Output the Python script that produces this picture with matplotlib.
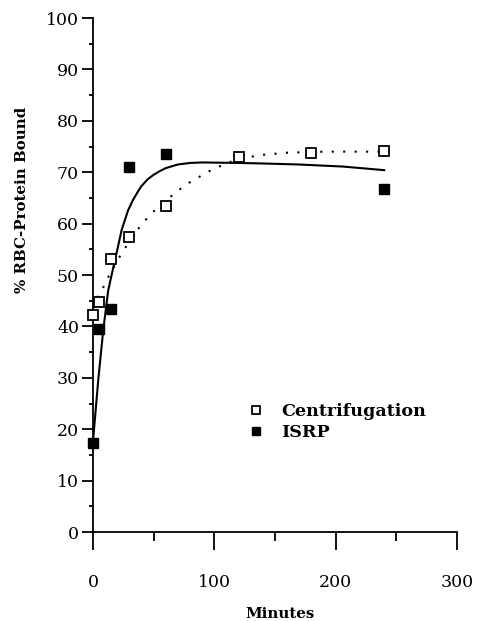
import matplotlib.pyplot as plt
from matplotlib.ticker import MultipleLocator

plt.rcParams["font.family"] = ["DejaVu Serif"]

# measured points
centrif_min = [0, 5, 15, 30, 60, 120, 180, 240]
centrif_pct = [42.2, 44.8, 53.1, 57.4, 63.4, 73.0, 73.7, 74.1]

isrp_min = [0, 5, 15, 30, 60, 240]
isrp_pct = [17.3, 39.5, 43.4, 71.0, 73.5, 66.7]

# fitted curves
isrp_fit_min = [0, 4.4, 8.5, 12.6, 15.4, 19.5, 23.7, 29, 33, 37, 40, 45, 50, 55,
                60, 70, 80, 90, 120, 140, 170, 206, 240]
isrp_fit_pct = [17.5, 29.6, 39.3, 47.0, 50.0, 54.3, 58.8, 62.6, 64.6, 66.2, 67.3,
                68.6, 69.5, 70.2, 70.8, 71.5, 71.8, 71.9, 71.8, 71.7, 71.5, 71.1, 70.4]

centrif_fit_min = [0, 4, 8.5, 12.6, 18, 23.6, 30, 34.6, 42.9, 51, 60, 67.6, 76,
                   85.5, 95, 106, 115.5, 136, 160, 191, 213, 240]
centrif_fit_pct = [43.5, 45.8, 47.6, 49.6, 51.9, 54.2, 56.5, 58.2, 60.6, 62.6,
                   64.5, 65.9, 67.5, 68.8, 70.1, 71.3, 72.2, 73.3, 73.8, 74.0, 74.0, 74.0]

fig = plt.figure(figsize=(4.79, 6.21), dpi=100)
ax = fig.add_axes([0.194, 0.1433, 0.760, 0.8277])

ax.plot(isrp_fit_min, isrp_fit_pct, color="black", lw=1.5, zorder=2)
ax.plot(centrif_fit_min, centrif_fit_pct, color="black", lw=1.5,
        linestyle=(0, (1, 4.5)), zorder=2)

ax.plot(centrif_min, centrif_pct, linestyle="none", marker="s", ms=6.5,
        mfc="white", mec="black", mew=1.3, label="Centrifugation", zorder=3,
        clip_on=False)
ax.plot(isrp_min, isrp_pct, linestyle="none", marker="s", ms=6.5,
        mfc="black", mec="black", label="ISRP", zorder=3, clip_on=False)

ax.set_xlim(0, 300)
ax.set_ylim(0, 100)
ax.xaxis.set_major_locator(MultipleLocator(100))
ax.xaxis.set_minor_locator(MultipleLocator(50))
ax.yaxis.set_major_locator(MultipleLocator(10))
ax.yaxis.set_minor_locator(MultipleLocator(5))

for s in ["top", "right"]:
    ax.spines[s].set_visible(False)
for s in ["left", "bottom"]:
    ax.spines[s].set_linewidth(1.3)

ax.tick_params(axis="x", which="major", direction="out", length=13, width=1.3,
               pad=17, labelsize=12.5)
ax.tick_params(axis="x", which="minor", direction="out", length=6.5, width=1.3)
ax.tick_params(axis="y", which="major", direction="out", length=8, width=1.3,
               pad=2, labelsize=12.5)
ax.tick_params(axis="y", which="minor", direction="out", length=3, width=1.3)

ax.set_xlabel("Minutes", fontsize=10.8, fontweight="bold")
ax.xaxis.set_label_coords(0.514, -0.146)
ax.set_ylabel("% RBC-Protein Bound", fontsize=10.8, fontweight="bold")
ax.yaxis.set_label_coords(-0.175, 0.646)

ax.legend(loc="upper left", bbox_to_anchor=(0.39, 0.275), frameon=False,
          handlelength=1.0, handletextpad=0.95, labelspacing=0.25,
          markerscale=0.8, borderpad=0.2,
          prop={"size": 12.6, "weight": "bold"})

fig.savefig("out.png", dpi=100)
